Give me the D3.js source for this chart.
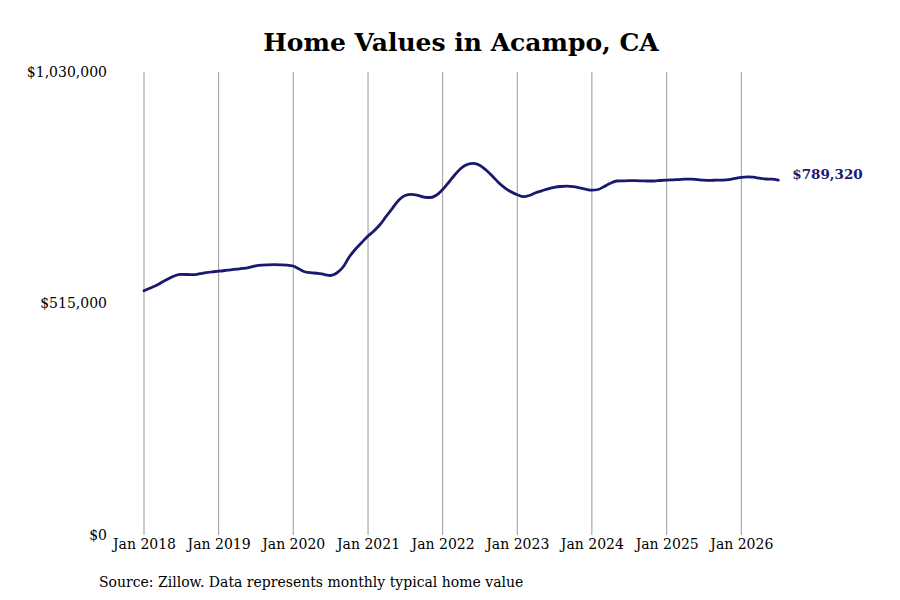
<!DOCTYPE html>
<html>
<head>
<meta charset="utf-8">
<script src="https://cdn.jsdelivr.net/npm/d3@7"></script>
<style>
  html, body { margin: 0; padding: 0; background: #fff; }
  svg { display: block; font-family: "DejaVu Serif", serif; }
</style>
</head>
<body>
<svg id="chart" width="900" height="600"></svg>
<script>
const startYear = 2018;
const startMonth = 0;
const values = [
  543500, 549500, 555000, 562800, 569900, 576800, 579700, 579500, 579100, 581300, 583700, 585500,
  586800, 588400, 590000, 591300, 592900, 595500, 598900, 600600, 601100, 601300, 601100, 600600,
  598400, 591300, 585100, 583300, 582200, 579500, 577300, 582800, 596200, 618400, 636200, 650700,
  665200, 677400, 690700, 709600, 727400, 745200, 755200, 757900, 755700, 751900, 750800, 755900,
  768600, 785300, 800900, 815800, 824200, 826900, 822600, 812000, 798600, 784200, 772400, 763500,
  756800, 752600, 755200, 761300, 765700, 770100, 773500, 775300, 775900, 775000, 772400, 769300,
  767000, 768600, 775300, 782400, 787500, 787900, 788200, 788200, 787900, 787500, 787500, 788600,
  789500, 790200, 790800, 791500, 791700, 790600, 789500, 789100, 789300, 789500, 790400, 793100,
  795700, 796800, 796000, 793700, 792000, 791500, 789320
];
const tickYears = [2018, 2019, 2020, 2021, 2022, 2023, 2024, 2025, 2026];
const yTicks = [0, 515000, 1030000];
const titleText = "Home Values in Acampo, CA";
const sourceText = "Source: Zillow. Data represents monthly typical home value";

const data = values.map((v, i) => ({ date: new Date(startYear, startMonth + i, 1), value: v }));

const svg = d3.select("#chart");

const x = d3.scaleTime()
  .domain([new Date(2018, 0, 1), new Date(2026, 0, 1)])
  .range([144, 741.3]);
const y = d3.scaleLinear().domain([0, 1030000]).range([535, 72]);

// title
svg.append("text")
  .attr("x", 461).attr("y", 51)
  .attr("text-anchor", "middle")
  .attr("font-size", 25).attr("font-weight", "bold")
  .attr("fill", "#000")
  .text(titleText);

// vertical gridlines
svg.append("g").selectAll("line")
  .data(tickYears)
  .join("line")
  .attr("x1", d => x(new Date(d, 0, 1)))
  .attr("x2", d => x(new Date(d, 0, 1)))
  .attr("y1", y(1030000)).attr("y2", y(0))
  .attr("stroke", "#999").attr("stroke-width", 1);

// x axis labels
const xAxis = d3.axisBottom(x)
  .tickValues(tickYears.map(d => new Date(d, 0, 1)))
  .tickFormat(d3.timeFormat("Jan %Y"))
  .tickSize(0).tickPadding(4);
const gx = svg.append("g").attr("transform", `translate(0,${y(0)})`).call(xAxis);
gx.select(".domain").remove();
gx.selectAll("text").attr("font-family", "DejaVu Serif, serif").attr("font-size", 14).attr("fill", "#000");

// y axis labels
const yAxis = d3.axisLeft(y)
  .tickValues(yTicks)
  .tickFormat(d => "$" + d3.format(",")(d))
  .tickSize(0).tickPadding(0);
const gy = svg.append("g").attr("transform", "translate(107,0)").call(yAxis);
gy.select(".domain").remove();
gy.selectAll("text").attr("font-family", "DejaVu Serif, serif").attr("font-size", 14).attr("fill", "#000");

// line
const line = d3.line()
  .x(d => x(d.date))
  .y(d => y(d.value))
  .curve(d3.curveMonotoneX);
svg.append("path")
  .datum(data)
  .attr("d", line)
  .attr("fill", "none")
  .attr("stroke", "#191970")
  .attr("stroke-width", 2.8)
  .attr("stroke-linejoin", "round")
  .attr("stroke-linecap", "round");

// end label
const last = data[data.length - 1];
svg.append("text")
  .attr("x", x(last.date) + 14)
  .attr("y", y(last.value) - 6)
  .attr("dy", "0.35em")
  .attr("font-size", 13.5).attr("font-weight", "bold")
  .attr("fill", "#191970")
  .text("$" + d3.format(",")(last.value));

// source
svg.append("text")
  .attr("x", 99).attr("y", 587)
  .attr("font-size", 14)
  .attr("fill", "#000")
  .text(sourceText);
</script>
</body>
</html>
